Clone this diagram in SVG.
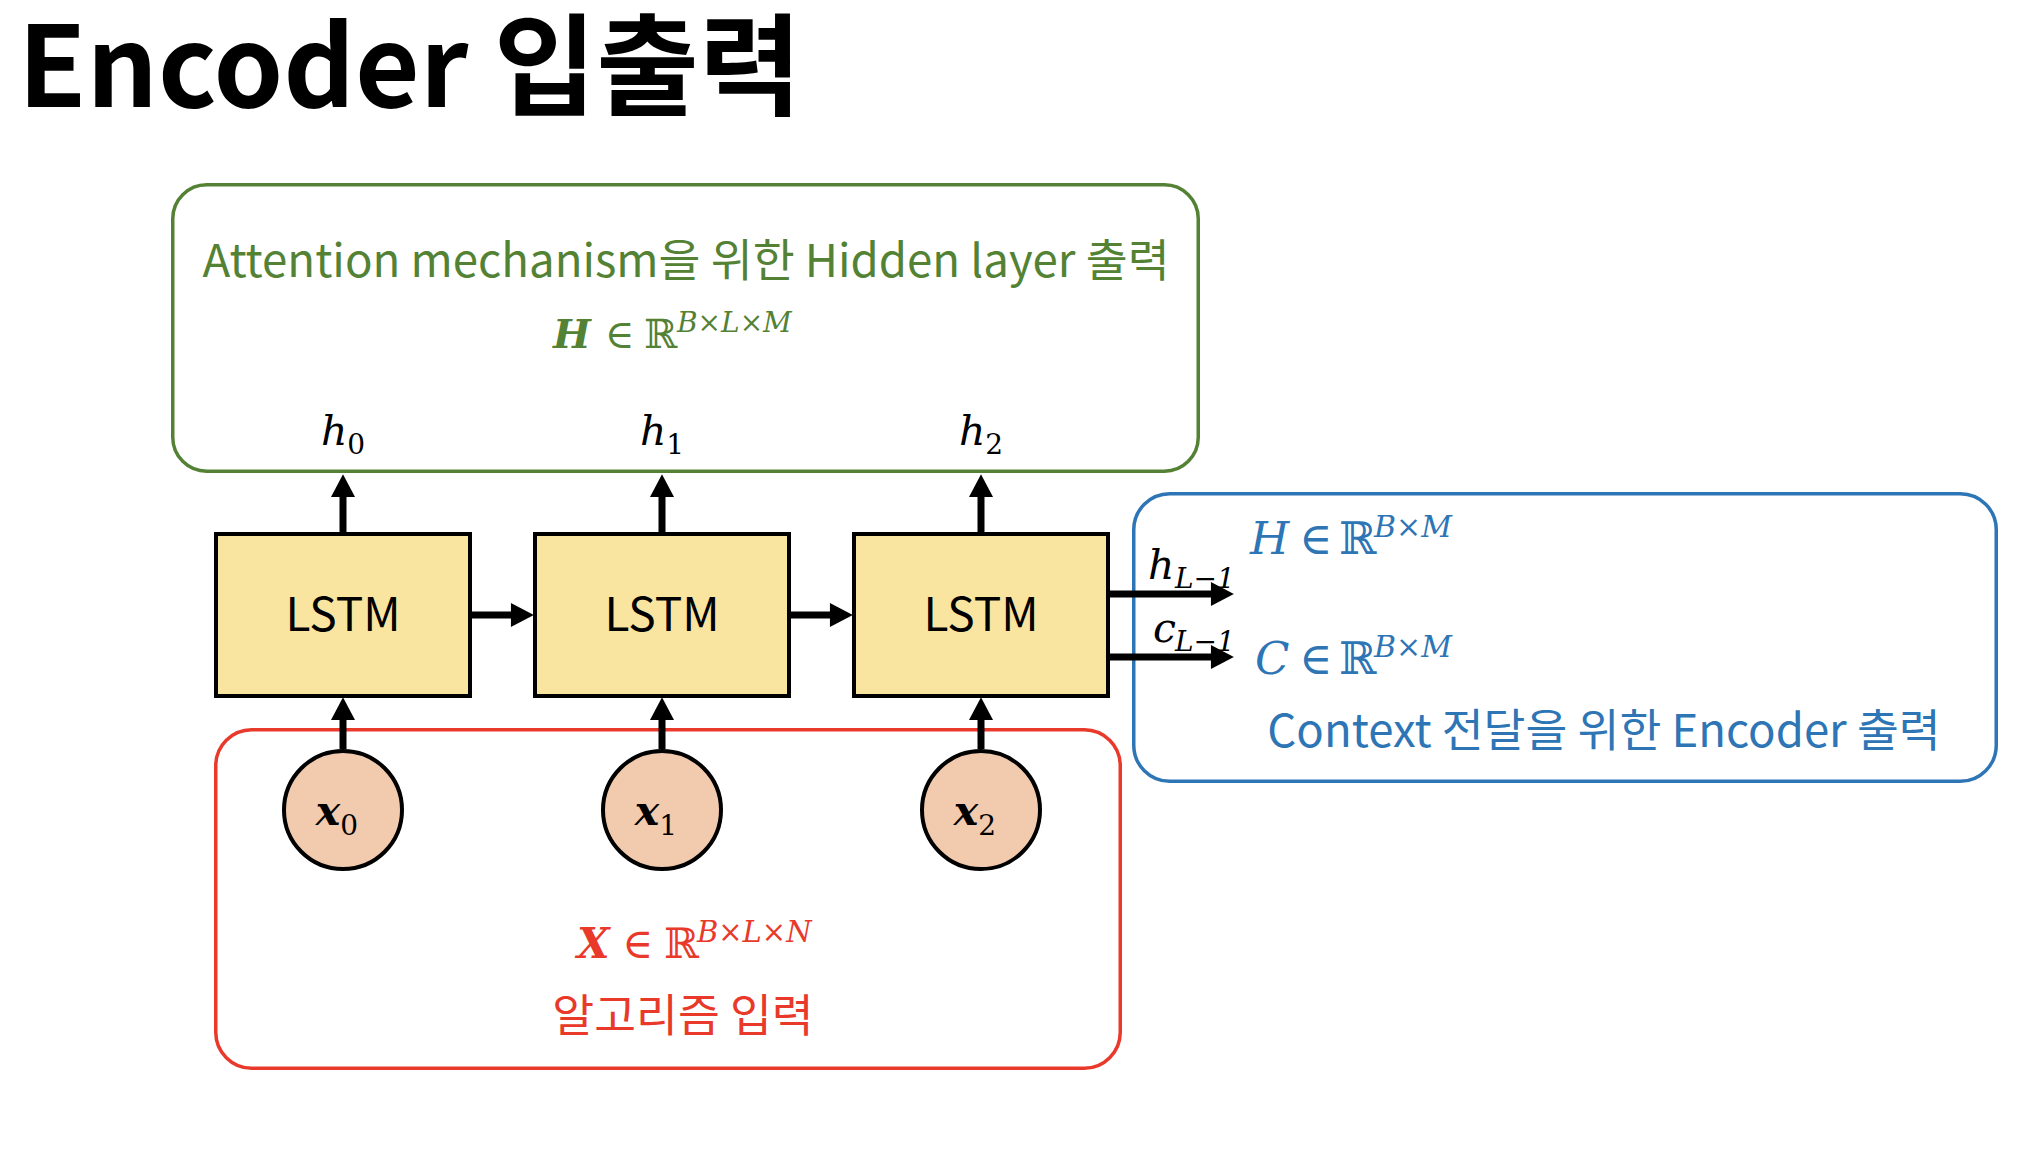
<svg xmlns="http://www.w3.org/2000/svg" width="2042" height="1152" viewBox="0 0 2042 1152">
<defs>
<style>
.sans{font-family:"Noto Sans CJK KR","Noto Sans",sans-serif;}
.math{font-family:"DejaVu Serif","Liberation Serif",serif;font-style:italic;}
.up{font-style:normal;}
.lstm{fill:#FAE5A0;stroke:#000;stroke-width:4;}
.inp{fill:#F2CAAE;stroke:#000;stroke-width:4;}
.conn{stroke:#000;stroke-width:7;fill:none;marker-end:url(#ah);}
.grp{fill:none;stroke-width:3.5;}
</style>
<marker id="ah" markerUnits="userSpaceOnUse" markerWidth="24" markerHeight="24" viewBox="0 0 22 23" refX="2" refY="11.5" orient="auto">
<path d="M0,0 L22,11.5 L0,23 z" fill="#000"/>
</marker>
</defs>
<rect width="2042" height="1152" fill="#fff"/>

<text id="title" class="sans" x="18" y="107" font-size="111.5" font-weight="bold" fill="#000">Encoder 입출력</text>

<g id="hidden-group">
<rect class="grp" x="172.75" y="184.75" width="1025.5" height="286.5" rx="34" stroke="#548235"/>
<text class="sans" x="686" y="277" font-size="45.6" text-anchor="middle" fill="#548235">Attention mechanism을 위한 Hidden layer 출력</text>
<text class="math" y="348" font-size="40" fill="#548235"><tspan x="553" font-weight="bold">H</tspan><tspan x="605" class="up">∈</tspan><tspan x="644" class="up">ℝ</tspan><tspan x="677" y="332" font-size="28">B×L×M</tspan></text>
</g>

<g id="context-group">
<rect class="grp" x="1133.75" y="493.75" width="862.5" height="287.5" rx="36" stroke="#2E75B6"/>
<text class="math" y="554" font-size="45" fill="#2E75B6"><tspan x="1250">H</tspan><tspan x="1299" class="up">∈</tspan><tspan x="1339" class="up">ℝ</tspan><tspan x="1374" y="537" font-size="30">B×M</tspan></text>
<text class="math" y="674" font-size="45" fill="#2E75B6"><tspan x="1255">C</tspan><tspan x="1299" class="up">∈</tspan><tspan x="1339" class="up">ℝ</tspan><tspan x="1374" y="657" font-size="30">B×M</tspan></text>
<text class="sans" x="1604" y="747" font-size="45.5" text-anchor="middle" fill="#2E75B6">Context 전달을 위한 Encoder 출력</text>
</g>

<g id="input-group">
<rect class="grp" x="215.75" y="729.75" width="904.5" height="338.5" rx="36" stroke="#E8392A"/>
<text class="math" y="958" font-size="42" fill="#E8392A"><tspan x="577" font-weight="bold">X</tspan><tspan x="622" class="up">∈</tspan><tspan x="664" class="up">ℝ</tspan><tspan x="697" y="942" font-size="29">B×L×N</tspan></text>
<text class="sans" x="683" y="1032" font-size="45.5" text-anchor="middle" fill="#E8392A">알고리즘 입력</text>
</g>

<g id="connectors">
<line class="conn" x1="343" y1="532" x2="343" y2="495"/>
<line class="conn" x1="662" y1="532" x2="662" y2="495"/>
<line class="conn" x1="981" y1="532" x2="981" y2="495"/>
<line class="conn" x1="343" y1="749" x2="343" y2="718"/>
<line class="conn" x1="662" y1="749" x2="662" y2="718"/>
<line class="conn" x1="981" y1="749" x2="981" y2="718"/>
<line class="conn" x1="472" y1="615" x2="513" y2="615"/>
<line class="conn" x1="791" y1="615" x2="832" y2="615"/>
<line class="conn" x1="1110" y1="594" x2="1213" y2="594"/>
<line class="conn" x1="1110" y1="657" x2="1213" y2="657"/>
<text class="math" y="579" font-size="41" fill="#000"><tspan x="1148">h</tspan><tspan x="1175" y="588" font-size="28">L−1</tspan></text>
<text class="math" y="642" font-size="41" fill="#000"><tspan x="1153">c</tspan><tspan x="1175" y="651" font-size="28">L−1</tspan></text>
</g>

<g id="lstm0">
<rect class="lstm" x="216" y="534" width="254" height="162"/>
<text class="sans" x="343" y="631" font-size="46" text-anchor="middle">LSTM</text>
</g>
<g id="lstm1">
<rect class="lstm" x="535" y="534" width="254" height="162"/>
<text class="sans" x="662" y="631" font-size="46" text-anchor="middle">LSTM</text>
</g>
<g id="lstm2">
<rect class="lstm" x="854" y="534" width="254" height="162"/>
<text class="sans" x="981" y="631" font-size="46" text-anchor="middle">LSTM</text>
</g>

<g id="h0"><text class="math" x="343" y="445" font-size="41" text-anchor="middle">h<tspan dy="9" font-size="28" class="up">0</tspan></text></g>
<g id="h1"><text class="math" x="662" y="445" font-size="41" text-anchor="middle">h<tspan dy="9" font-size="28" class="up">1</tspan></text></g>
<g id="h2"><text class="math" x="981" y="445" font-size="41" text-anchor="middle">h<tspan dy="9" font-size="28" class="up">2</tspan></text></g>

<g id="x0">
<circle class="inp" cx="343" cy="810" r="59"/>
<text class="math" x="337" y="825" font-size="41" font-weight="bold" text-anchor="middle">x<tspan dy="10" font-size="28" font-weight="normal" class="up">0</tspan></text>
</g>
<g id="x1">
<circle class="inp" cx="662" cy="810" r="59"/>
<text class="math" x="656" y="825" font-size="41" font-weight="bold" text-anchor="middle">x<tspan dy="10" font-size="28" font-weight="normal" class="up">1</tspan></text>
</g>
<g id="x2">
<circle class="inp" cx="981" cy="810" r="59"/>
<text class="math" x="975" y="825" font-size="41" font-weight="bold" text-anchor="middle">x<tspan dy="10" font-size="28" font-weight="normal" class="up">2</tspan></text>
</g>
</svg>
